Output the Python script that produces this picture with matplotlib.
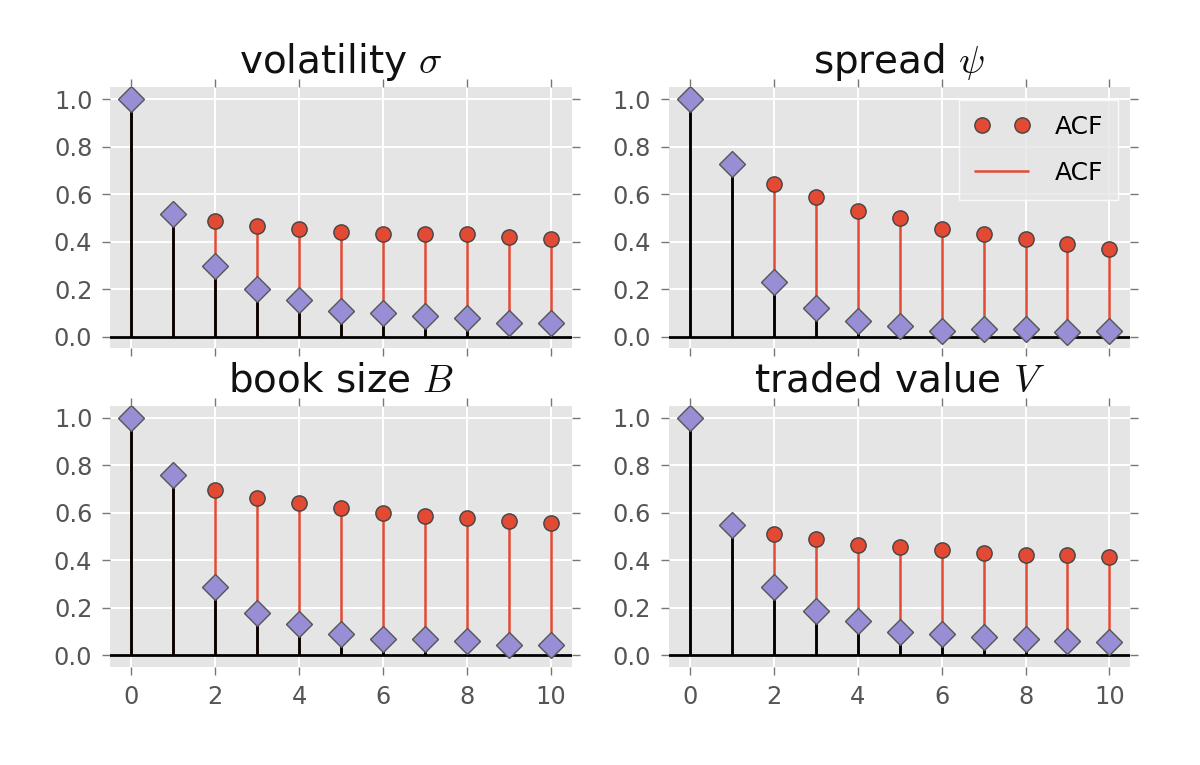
import numpy as np
import matplotlib
matplotlib.use("Agg")
import matplotlib.pyplot as plt

plt.style.use("ggplot")
plt.rcParams["mathtext.fontset"] = "cm"
plt.rcParams["font.family"] = ["DejaVu Sans"]

lags = np.arange(11)

titles = [r"volatility $\sigma$", r"spread $\psi$", r"book size $B$", r"traded value $V$"]

# autocorrelation (red circles) and partial autocorrelation (purple diamonds)
acf_vol = [1.0, 0.516, 0.488, 0.466, 0.453, 0.442, 0.432, 0.432, 0.432, 0.421, 0.411]
pacf_vol = [1.0, 0.516, 0.297, 0.199, 0.154, 0.109, 0.098, 0.087, 0.077, 0.056, 0.056]

acf_spread = [1.0, 0.727, 0.642, 0.586, 0.530, 0.498, 0.453, 0.432, 0.411, 0.390, 0.367]
pacf_spread = [1.0, 0.727, 0.230, 0.122, 0.066, 0.046, 0.024, 0.032, 0.032, 0.021, 0.024]

acf_book = [1.0, 0.759, 0.696, 0.664, 0.643, 0.619, 0.598, 0.587, 0.577, 0.566, 0.556]
pacf_book = [1.0, 0.759, 0.286, 0.178, 0.133, 0.090, 0.069, 0.069, 0.059, 0.045, 0.045]

acf_traded = [1.0, 0.549, 0.510, 0.489, 0.465, 0.455, 0.444, 0.430, 0.423, 0.423, 0.413]
pacf_traded = [1.0, 0.549, 0.286, 0.188, 0.143, 0.098, 0.090, 0.077, 0.069, 0.059, 0.056]

acfs = [acf_vol, acf_spread, acf_book, acf_traded]
pacfs = [pacf_vol, pacf_spread, pacf_book, pacf_traded]

red = "#E24A33"
purple = "#988ED5"

fig, axes = plt.subplots(2, 2, figsize=(6, 3.825), dpi=200, sharex=True)
fig.subplots_adjust(left=0.092, right=0.942, top=0.886, bottom=0.128, wspace=0.21, hspace=0.22)

for i, ax in enumerate(axes.flat):
    acf = acfs[i]
    pacf = pacfs[i]
    ax.plot(lags, acf, "o", color=red, ms=5.5, mec="#444444", mew=0.5, label="ACF", zorder=3)
    ax.vlines(lags, 0, acf, color=red, lw=0.9, label="ACF", zorder=2)
    ax.vlines(lags, 0, pacf, color="black", lw=1.0, zorder=4)
    ax.plot(lags, pacf, "D", color=purple, ms=6.5, mec="#555555", mew=0.5, zorder=5)
    ax.axhline(0, color="black", lw=1.0, zorder=4)
    ax.set_title(titles[i], fontsize=14, color="#111111", pad=5)
    ax.set_xlim(-0.5, 10.5)
    ax.set_ylim(-0.05, 1.05)
    ax.set_xticks([0, 2, 4, 6, 8, 10])
    ax.set_yticks([0.0, 0.2, 0.4, 0.6, 0.8, 1.0])
    ax.tick_params(axis="both", which="major", labelsize=8.7, direction="out",
                   length=3, width=0.5, color="#777777", labelcolor="#555555",
                   top=True, right=True)
    ax.grid(True, color="white", lw=0.7)
    ax.set_axisbelow(True)
    for s in ax.spines.values():
        s.set_visible(False)
    if i == 1:
        leg = ax.legend(loc="upper right", numpoints=2, fontsize=9, fancybox=False,
                        frameon=True, handlelength=2.2, labelspacing=0.9,
                        borderpad=0.6, handletextpad=1.0)
        leg.get_frame().set_facecolor("#E5E5E5")
        leg.get_frame().set_edgecolor("white")

plt.savefig("out.png", dpi=200)
